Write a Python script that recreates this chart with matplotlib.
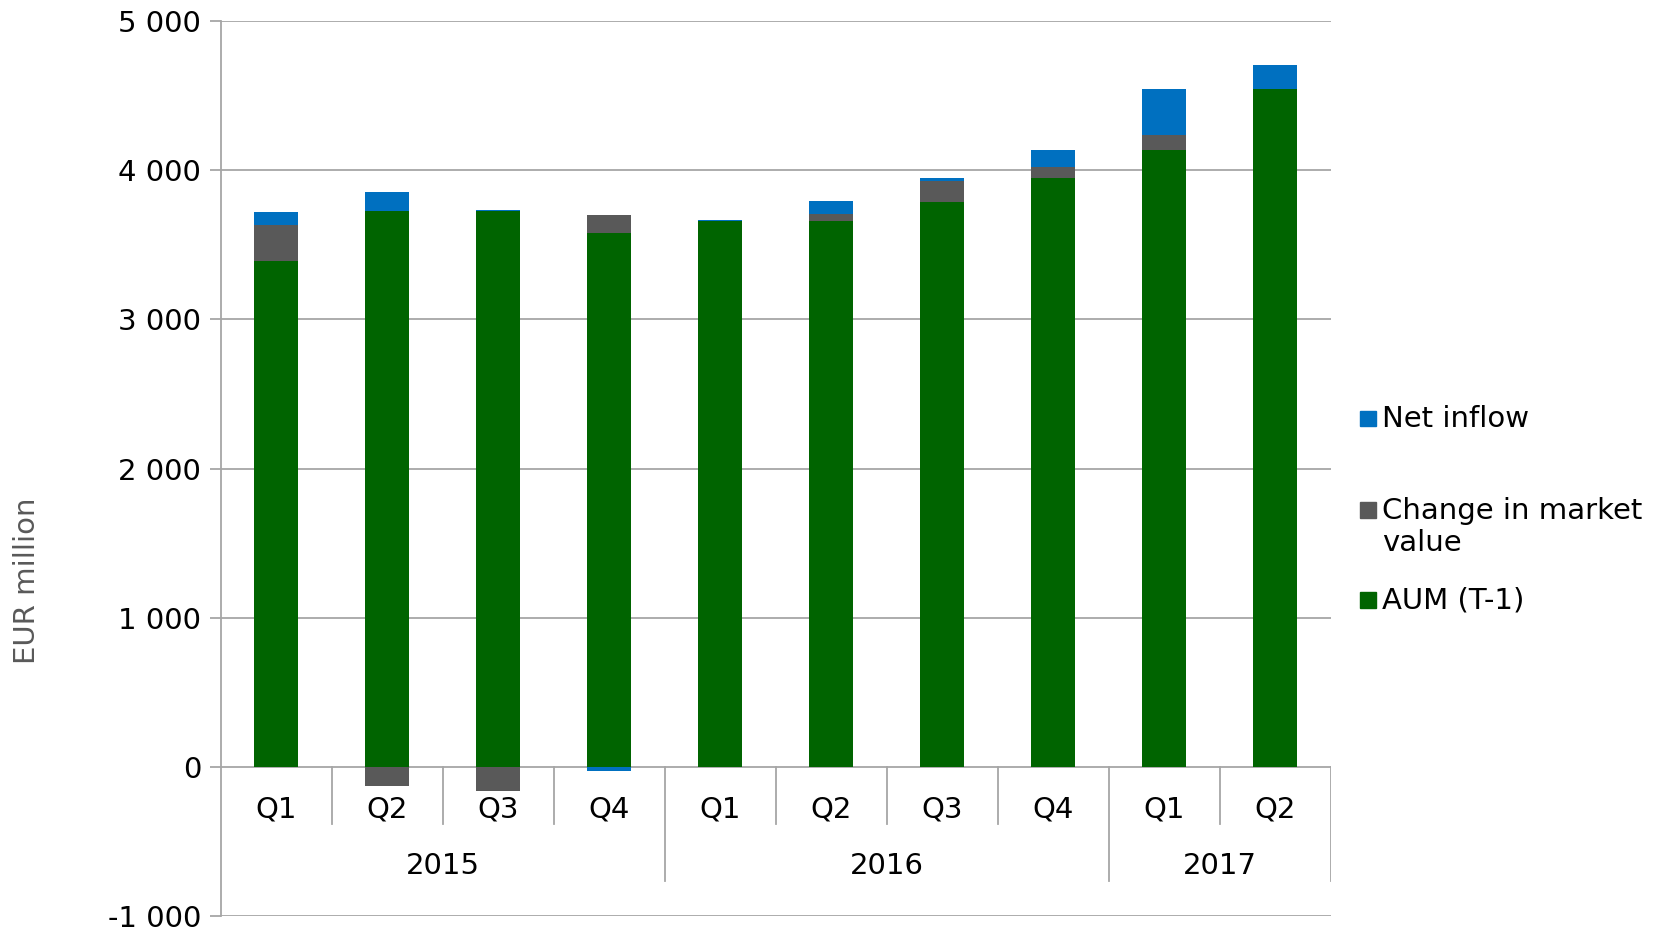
import numpy as np
import matplotlib.pyplot as plt
from matplotlib.patches import Rectangle

# data (EUR million)
quarters = ['Q1', 'Q2', 'Q3', 'Q4', 'Q1', 'Q2', 'Q3', 'Q4', 'Q1', 'Q2']
years = ['2015', '2016', '2017']
year_spans = [(0, 4), (4, 8), (8, 10)]
aum_prev = [3391, 3726, 3726, 3579, 3661, 3660, 3790, 3949, 4136, 4545]
market_change = [241, -129, -160, 120, 0, 48, 141, 72, 99, 0]
net_inflow = [91, 129, 10, -30, 8, 85, 16, 114, 310, 159]

c_green = '#006400'
c_grey = '#595959'
c_blue = '#0070C0'
c_line = '#A6A6A6'
fs = 21

fig = plt.figure(figsize=(16.62, 9.31), dpi=100)
ax = fig.add_axes([0.1327, 0.0163, 0.668, 0.9609])

x = np.arange(len(quarters))
w = 0.4

# Excel-style stacking: positives upward, negatives downward
pos_base = np.zeros(len(x))
neg_base = np.zeros(len(x))
for vals, col in [(aum_prev, c_green), (market_change, c_grey), (net_inflow, c_blue)]:
    vals = np.array(vals, dtype=float)
    bottom = np.where(vals >= 0, pos_base, neg_base)
    ax.bar(x, vals, w, bottom=bottom, color=col, zorder=3)
    pos_base = pos_base + np.clip(vals, 0, None)
    neg_base = neg_base + np.clip(vals, None, 0)

ax.set_xlim(-0.5, len(x) - 0.5)
ax.set_ylim(-1000, 5000)
ax.set_yticks(np.arange(-1000, 5001, 1000))
ax.set_yticklabels([f'{v:,}'.replace(',', ' ') for v in range(-1000, 5001, 1000)])
ax.yaxis.grid(True, color=c_line, linewidth=1.3, zorder=0)
ax.set_xticks([])
ax.tick_params(axis='y', labelsize=fs, length=8, width=1.3, color=c_line, pad=6)
for s in ['top', 'right', 'bottom']:
    ax.spines[s].set_visible(False)
ax.spines['left'].set_color(c_line)
ax.spines['left'].set_linewidth(1.3)

# category axis at zero with two-level labels
q_depth = -384
y_depth = -767
boundaries = [s for s, e in year_spans] + [len(x)]
for i in range(1, len(x)):
    depth = y_depth if i in boundaries else q_depth
    ax.plot([i - 0.5, i - 0.5], [0, depth], color=c_line, lw=1.3, zorder=2)
ax.plot([len(x) - 0.5, len(x) - 0.5], [0, y_depth], color=c_line, lw=1.3, zorder=2)
for xi, q in zip(x, quarters):
    ax.text(xi, -290, q, ha='center', va='center', fontsize=fs)
for yr, (s, e) in zip(years, year_spans):
    ax.text((s + e - 1) / 2, -668, yr, ha='center', va='center', fontsize=fs)

# y label
fig.text(0.016, 0.376, 'EUR million', rotation=90, ha='center', va='center',
         fontsize=21, color='#595959', family=['Liberation Sans Narrow', 'DejaVu Sans'])

# legend
legend_items = [('Net inflow', c_blue, 0.550, 0.550),
                ('Change in market\nvalue', c_grey, 0.452, 0.434),
                ('AUM (T-1)', c_green, 0.355, 0.355)]
for label, col, ysq, ytxt in legend_items:
    fig.patches.append(Rectangle((0.8185, ysq - 0.008), 0.0092, 0.017, color=col,
                                 transform=fig.transFigure))
    fig.text(0.8315, ytxt, label, ha='left', va='center', fontsize=fs, linespacing=1.15)

fig.savefig('out.png', dpi=100)
